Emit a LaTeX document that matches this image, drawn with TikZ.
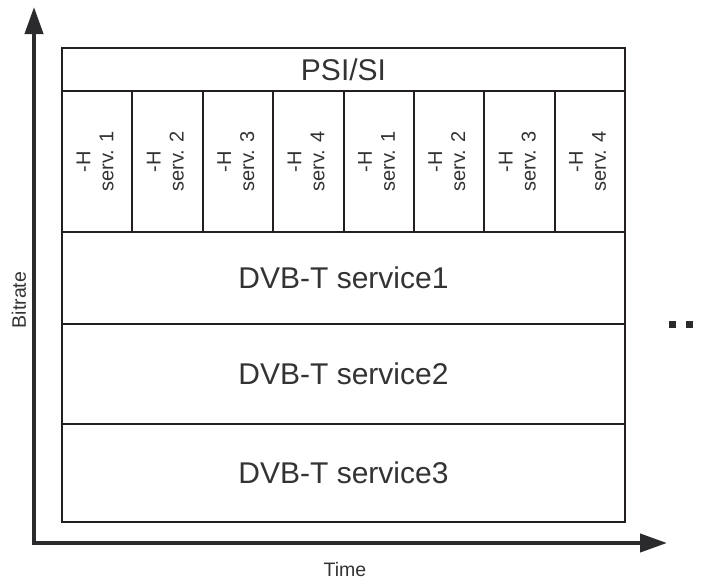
\documentclass[tikz,border=0pt]{standalone}
\usepackage{fontspec}
\setmainfont{Liberation Sans}
\usetikzlibrary{arrows.meta}
\definecolor{ink}{HTML}{231F20}
\definecolor{txt}{HTML}{333333}
\definecolor{axis}{HTML}{2B2B2E}
\begin{document}
\begin{tikzpicture}[x=1pt,y=-1pt,
  cellbox/.style={draw=ink, line width=2pt, inner sep=0pt, outer sep=0pt,
    anchor=north west, text=txt},
  bigtxt/.style={font=\fontsize{30}{34}\selectfont},
  smalltxt/.style={font=\fontsize{20}{23}\selectfont},
  axislbl/.style={text=txt, inner sep=0pt, font=\fontsize{19.5}{22}\selectfont},
  axisline/.style={draw=axis, line width=4pt, line join=miter,
    {Triangle[length=27pt,width=18pt]}-{Triangle[length=27pt,width=18pt]}}]
  \useasboundingbox (0,0) rectangle (704,581);

  % table header
  \node[cellbox, bigtxt, minimum width=563pt, minimum height=43pt] (psi) at (62,48) {PSI/SI};

  % eight narrow DVB-H columns
  \foreach \i/\n in {0/1,1/2,2/3,3/4,4/1,5/2,6/3,7/4}{
    \node[cellbox, smalltxt, minimum width=70.375pt, minimum height=141pt]
      (hcol\i) at ({62+\i*70.375},91)
      {\rotatebox{90}{\begin{tabular}{@{}c@{}}-H\\serv. \n\end{tabular}}};
  }

  % DVB-T rows
  \node[cellbox, bigtxt, minimum width=563pt, minimum height=92pt] (t1) at (62,232) {DVB-T service1};
  \node[cellbox, bigtxt, minimum width=563pt, minimum height=100pt] (t2) at (62,324) {DVB-T service2};
  \node[cellbox, bigtxt, minimum width=563pt, minimum height=98pt] (t3) at (62,424) {DVB-T service3};

  % axes
  \coordinate (ytip) at (34,7);
  \coordinate (origin) at (34,543);
  \coordinate (xtip) at (667,543);
  \draw[axisline] (ytip) -- (origin) -- (xtip);
  \node[axislbl, rotate=90] (bitrate) at (19,300) {Bitrate};
  \node[axislbl] (time) at (345,570) {Time};

  % continuation dots
  \fill[axis] (669,321) rectangle (676,328);
  \fill[axis] (686,321) rectangle (693,328);
\end{tikzpicture}
\end{document}
